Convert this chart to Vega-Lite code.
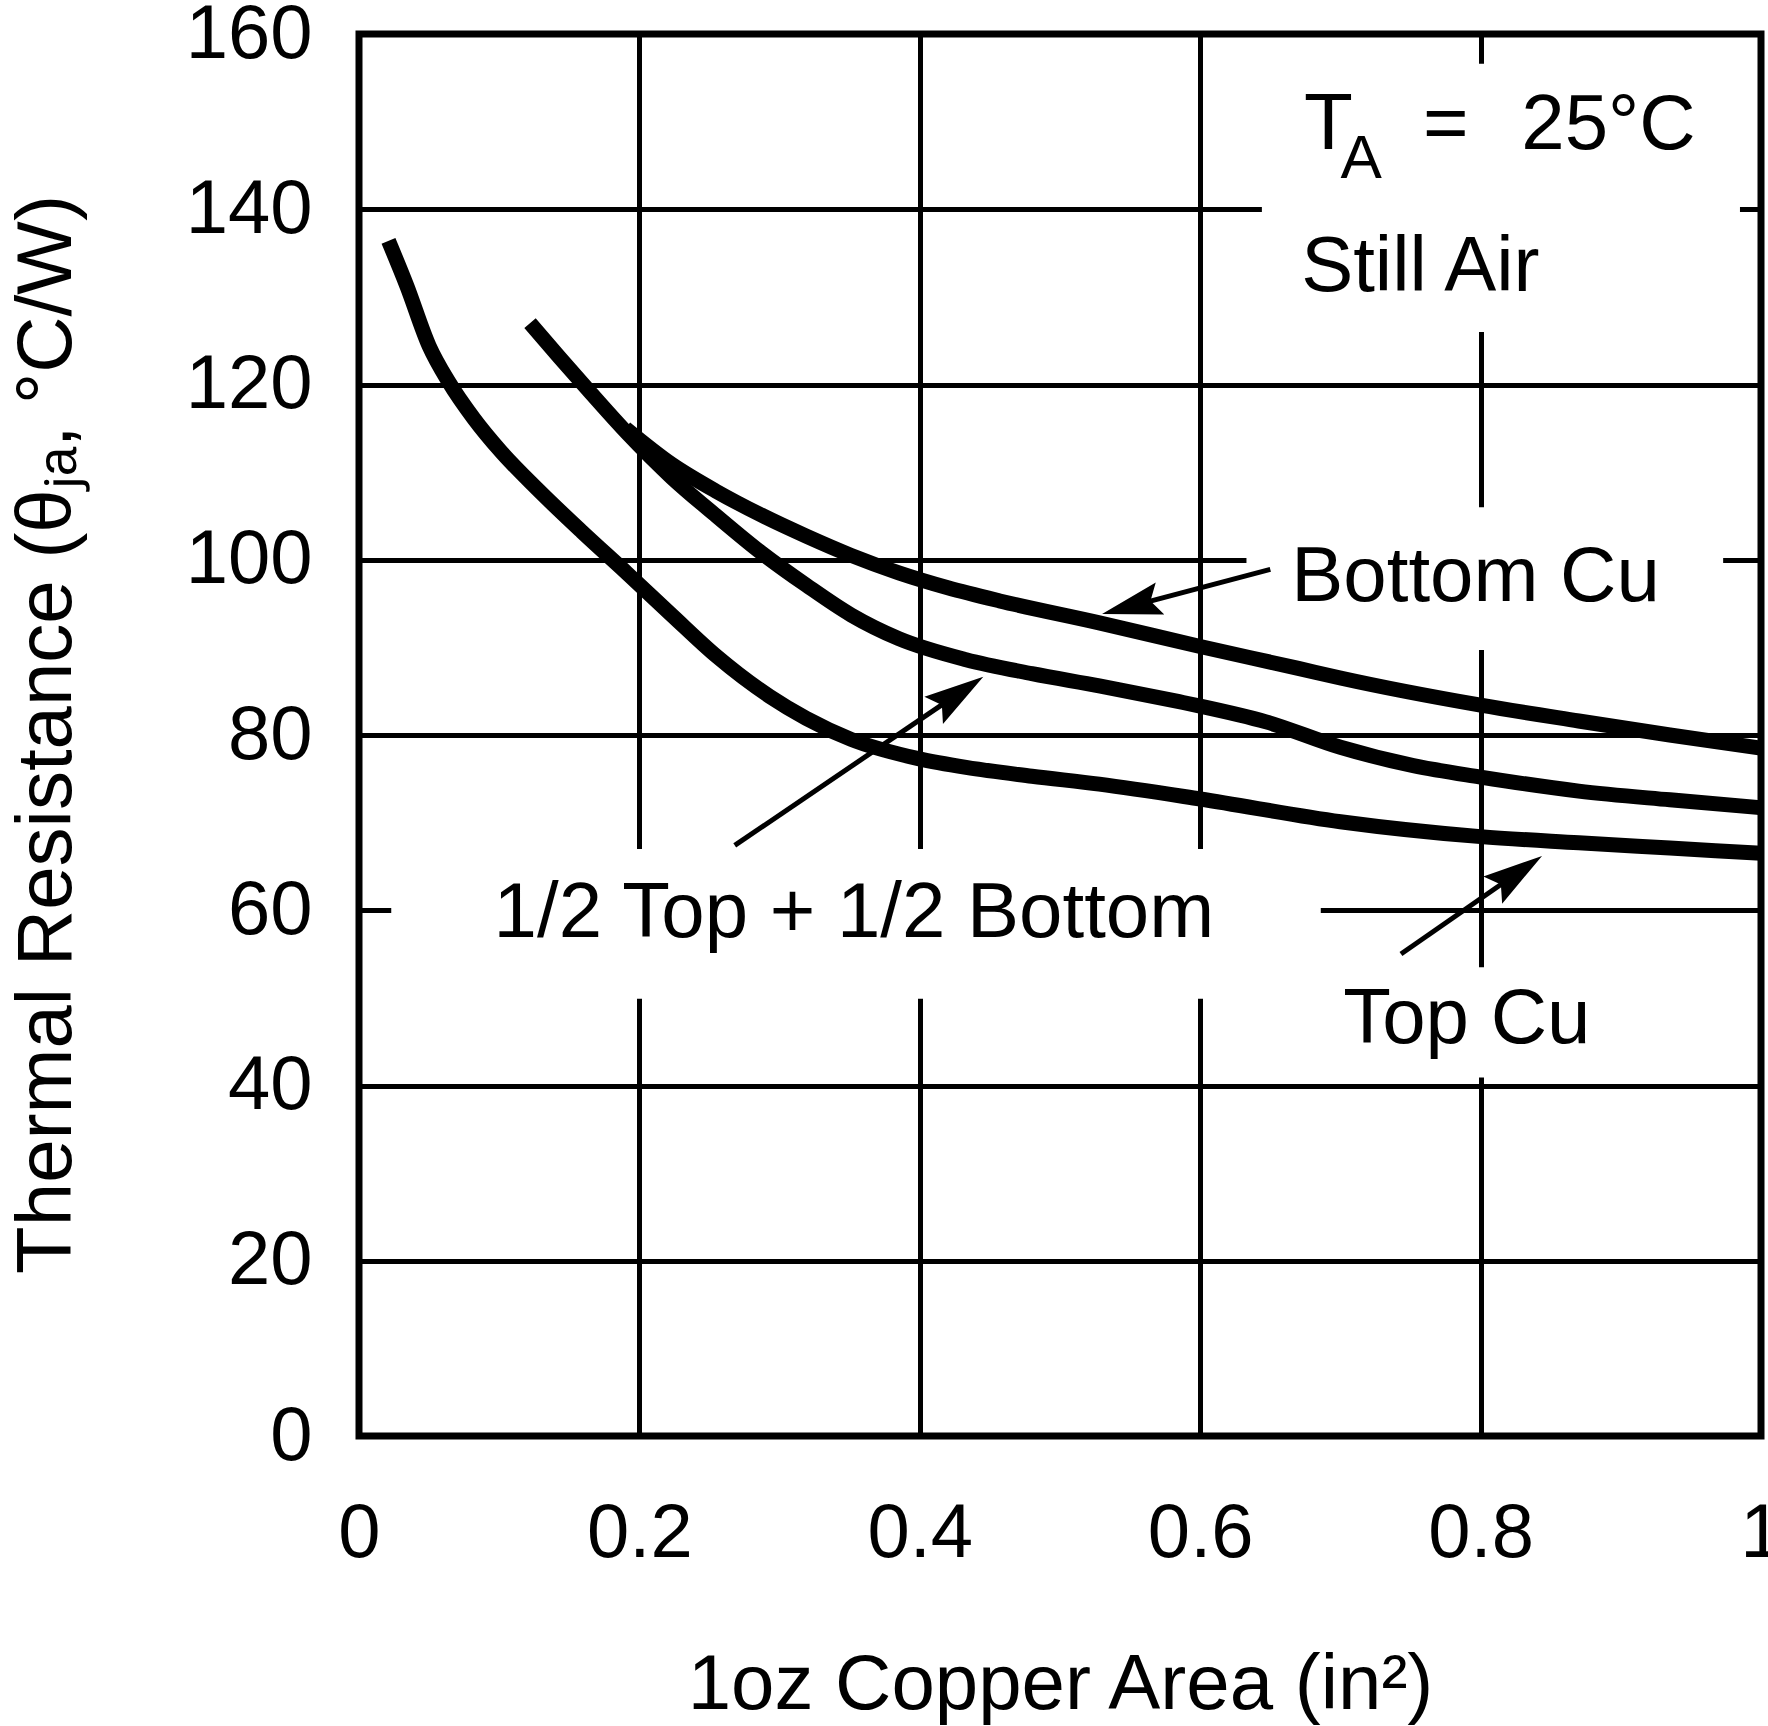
{
  "$schema": "https://vega.github.io/schema/vega-lite/v6.json",
  "width": 1402,
  "height": 1402,
  "autosize": {"type": "none"},
  "padding": {"left": 359, "top": 34, "right": 7, "bottom": 290},
  "background": "white",
  "config": {
    "view": {"stroke": "black", "strokeWidth": 7},
    "font": "Liberation Sans"
  },
  "datasets": {
    "boxes": [
      {"x": 0.644, "x2": 0.985, "y": 126, "y2": 156.6},
      {"x": 0.633, "x2": 0.973, "y": 89.7, "y2": 106},
      {"x": 0.023, "x2": 0.686, "y": 49.9, "y2": 67.0},
      {"x": 0.70, "x2": 0.88, "y": 40.9, "y2": 53.5}
    ],
    "curves": [
      {"series": "Top Cu", "x": 0.021, "y": 136.4},
      {"series": "Top Cu", "x": 0.034, "y": 131.3},
      {"series": "Top Cu", "x": 0.050, "y": 124.4},
      {"series": "Top Cu", "x": 0.064, "y": 120.3},
      {"series": "Top Cu", "x": 0.082, "y": 116.1},
      {"series": "Top Cu", "x": 0.101, "y": 112.4},
      {"series": "Top Cu", "x": 0.127, "y": 108.1},
      {"series": "Top Cu", "x": 0.159, "y": 103.2},
      {"series": "Top Cu", "x": 0.191, "y": 98.5},
      {"series": "Top Cu", "x": 0.223, "y": 93.7},
      {"series": "Top Cu", "x": 0.255, "y": 89.0},
      {"series": "Top Cu", "x": 0.293, "y": 84.4},
      {"series": "Top Cu", "x": 0.319, "y": 81.9},
      {"series": "Top Cu", "x": 0.351, "y": 79.5},
      {"series": "Top Cu", "x": 0.399, "y": 77.3},
      {"series": "Top Cu", "x": 0.433, "y": 76.3},
      {"series": "Top Cu", "x": 0.48, "y": 75.3},
      {"series": "Top Cu", "x": 0.528, "y": 74.4},
      {"series": "Top Cu", "x": 0.60, "y": 72.7},
      {"series": "Top Cu", "x": 0.70, "y": 70.1},
      {"series": "Top Cu", "x": 0.80, "y": 68.4},
      {"series": "Top Cu", "x": 0.87, "y": 67.7},
      {"series": "Top Cu", "x": 0.935, "y": 67.1},
      {"series": "Top Cu", "x": 1.0, "y": 66.5},
      {"series": "Half", "x": 0.122, "y": 127.0},
      {"series": "Half", "x": 0.143, "y": 123.1},
      {"series": "Half", "x": 0.165, "y": 119.1},
      {"series": "Half", "x": 0.191, "y": 114.5},
      {"series": "Half", "x": 0.223, "y": 109.4},
      {"series": "Half", "x": 0.255, "y": 105.0},
      {"series": "Half", "x": 0.287, "y": 100.8},
      {"series": "Half", "x": 0.319, "y": 97.1},
      {"series": "Half", "x": 0.351, "y": 93.7},
      {"series": "Half", "x": 0.385, "y": 91.0},
      {"series": "Half", "x": 0.433, "y": 88.6},
      {"series": "Half", "x": 0.48, "y": 87.0},
      {"series": "Half", "x": 0.528, "y": 85.6},
      {"series": "Half", "x": 0.585, "y": 83.8},
      {"series": "Half", "x": 0.60, "y": 83.3},
      {"series": "Half", "x": 0.647, "y": 81.5},
      {"series": "Half", "x": 0.70, "y": 78.6},
      {"series": "Half", "x": 0.752, "y": 76.5},
      {"series": "Half", "x": 0.80, "y": 75.2},
      {"series": "Half", "x": 0.87, "y": 73.6},
      {"series": "Half", "x": 0.935, "y": 72.6},
      {"series": "Half", "x": 1.0, "y": 71.7},
      {"series": "Bottom Cu", "x": 0.19, "y": 115.0},
      {"series": "Bottom Cu", "x": 0.223, "y": 110.9},
      {"series": "Bottom Cu", "x": 0.255, "y": 107.8},
      {"series": "Bottom Cu", "x": 0.287, "y": 105.1},
      {"series": "Bottom Cu", "x": 0.319, "y": 102.7},
      {"series": "Bottom Cu", "x": 0.351, "y": 100.5},
      {"series": "Bottom Cu", "x": 0.385, "y": 98.5},
      {"series": "Bottom Cu", "x": 0.42, "y": 96.8},
      {"series": "Bottom Cu", "x": 0.457, "y": 95.3},
      {"series": "Bottom Cu", "x": 0.528, "y": 92.8},
      {"series": "Bottom Cu", "x": 0.60, "y": 90.1},
      {"series": "Bottom Cu", "x": 0.67, "y": 87.6},
      {"series": "Bottom Cu", "x": 0.70, "y": 86.5},
      {"series": "Bottom Cu", "x": 0.80, "y": 83.4},
      {"series": "Bottom Cu", "x": 0.87, "y": 81.6},
      {"series": "Bottom Cu", "x": 0.935, "y": 80.0},
      {"series": "Bottom Cu", "x": 1.0, "y": 78.5}
    ],
    "arrows": [
      {"id": "a1", "x": 0.650, "y": 98.9},
      {"id": "a1", "x": 0.5577, "y": 95.0},
      {"id": "a2", "x": 0.268, "y": 67.4},
      {"id": "a2", "x": 0.4217, "y": 84.09},
      {"id": "a3", "x": 0.7432, "y": 55.0},
      {"id": "a3", "x": 0.8204, "y": 63.59}
    ],
    "heads": [
      {"x": 0.530, "y": 93.8, "angle": 255},
      {"x": 0.4453, "y": 86.65, "angle": 55.8},
      {"x": 0.8438, "y": 66.2, "angle": 55.2}
    ],
    "labels": [
      {"text": "T", "x": 0.674, "y": 146.9, "size": 80},
      {"text": "A", "x": 0.700, "y": 143.6, "size": 62},
      {"text": "=", "x": 0.759, "y": 146.9, "size": 78},
      {"text": "25°C", "x": 0.829, "y": 146.9, "size": 78},
      {"text": "Still Air", "x": 0.672, "y": 130.7, "size": 78},
      {"text": "Bottom Cu", "x": 0.665, "y": 95.3, "size": 78},
      {"text": "Top Cu", "x": 0.702, "y": 44.8, "size": 78}
    ],
    "centered": [
      {"text": "1/2 Top + 1/2 Bottom", "x": 0.353, "y": 56.9, "size": 78}
    ]
  },
  "encoding": {
    "x": {
      "field": "x",
      "type": "quantitative",
      "scale": {"domain": [0, 1], "nice": false, "zero": false},
      "axis": {
        "values": [0, 0.2, 0.4, 0.6, 0.8, 1],
        "format": ".1~f",
        "grid": true,
        "gridColor": "black",
        "gridWidth": 5,
        "gridOpacity": 1,
        "domain": false,
        "ticks": false,
        "labelFont": "Liberation Sans",
        "labelFontSize": 76,
        "labelColor": "black",
        "labelBaseline": "alphabetic",
        "labelPadding": 120,
        "labelFlush": false,
        "labelOverlap": false,
        "labelBound": false,
        "labelLimit": 500,
        "title": "1oz Copper Area (in²)",
        "titleFont": "Liberation Sans",
        "titleFontSize": 78,
        "titleFontWeight": "normal",
        "titleColor": "black",
        "titleBaseline": "alphabetic",
        "titleAlign": "center",
        "titleX": 701,
        "titleY": 272,
        "titleLimit": 2000
      }
    },
    "y": {
      "field": "y",
      "type": "quantitative",
      "scale": {"domain": [0, 160], "nice": false},
      "axis": {
        "values": [0, 20, 40, 60, 80, 100, 120, 140, 160],
        "grid": true,
        "gridColor": "black",
        "gridWidth": 5,
        "gridOpacity": 1,
        "domain": false,
        "ticks": false,
        "labelFont": "Liberation Sans",
        "labelFontSize": 76,
        "labelColor": "black",
        "labelPadding": 47,
        "labelFlush": false,
        "labelOverlap": false,
        "labelBound": false,
        "labelLimit": 500,
        "title": "Thermal Resistance (θⱼₐ, °C/W)",
        "titleFont": "Liberation Sans",
        "titleFontSize": 78,
        "titleFontWeight": "normal",
        "titleColor": "black",
        "titleAngle": -90,
        "titleAlign": "center",
        "titleBaseline": "alphabetic",
        "titleX": -289,
        "titleY": 700,
        "titleLimit": 2000
      }
    }
  },
  "layer": [
    {
      "data": {"name": "boxes"},
      "mark": {"type": "rect", "fill": "white", "strokeWidth": 0},
      "encoding": {
        "x2": {"field": "x2"},
        "y2": {"field": "y2"}
      }
    },
    {
      "data": {"name": "curves"},
      "mark": {"type": "line", "color": "black", "strokeWidth": 15, "interpolate": "monotone", "strokeCap": "butt"},
      "encoding": {"detail": {"field": "series"}}
    },
    {
      "data": {"name": "arrows"},
      "mark": {"type": "line", "color": "black", "strokeWidth": 5, "strokeCap": "butt"},
      "encoding": {"detail": {"field": "id"}}
    },
    {
      "data": {"name": "heads"},
      "mark": {"type": "point", "shape": "M0,0L0.55,2L0,1.67L-0.55,2Z", "filled": true, "color": "black", "opacity": 1, "size": 3600, "strokeWidth": 0},
      "encoding": {"angle": {"field": "angle", "type": "quantitative", "scale": null}}
    },
    {
      "data": {"name": "labels"},
      "mark": {"type": "text", "align": "left", "baseline": "alphabetic", "color": "black", "font": "Liberation Sans"},
      "encoding": {
        "text": {"field": "text"},
        "size": {"field": "size", "type": "quantitative", "scale": null}
      }
    },
    {
      "data": {"name": "centered"},
      "mark": {"type": "text", "align": "center", "baseline": "alphabetic", "color": "black", "font": "Liberation Sans"},
      "encoding": {
        "text": {"field": "text"},
        "size": {"field": "size", "type": "quantitative", "scale": null}
      }
    }
  ]
}
